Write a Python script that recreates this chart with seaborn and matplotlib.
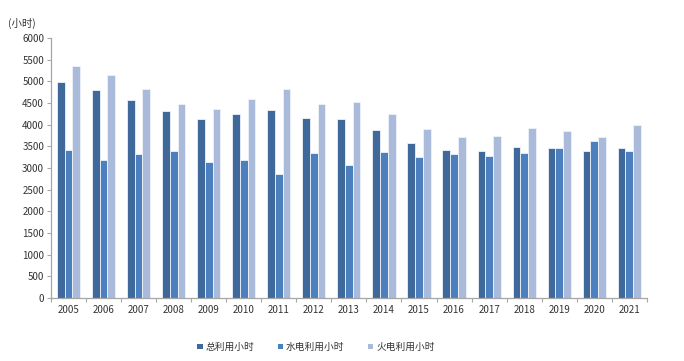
import matplotlib
matplotlib.use("Agg")
import matplotlib.pyplot as plt
import seaborn as sns
import pandas as pd
import numpy as np
from matplotlib.ticker import FixedLocator, MultipleLocator
from matplotlib.patches import Patch

years = [str(y) for y in range(2005, 2022)]
total_hours = [4980, 4790, 4560, 4310, 4120, 4250, 4325, 4155, 4120, 3885, 3570, 3410, 3390, 3490, 3455, 3380, 3455]
hydro_hours = [3410, 3175, 3320, 3400, 3145, 3190, 2860, 3345, 3070, 3375, 3240, 3320, 3280, 3340, 3465, 3615, 3400]
thermal_hours = [5350, 5150, 4810, 4480, 4360, 4580, 4810, 4480, 4520, 4250, 3890, 3720, 3740, 3915, 3840, 3720, 3995]
series_names = ["总利用小时", "水电利用小时", "火电利用小时"]
colors = ["#3F689B", "#4B7FBD", "#A9BADA"]

df = pd.DataFrame({
    "year": years * 3,
    "hours": total_hours + hydro_hours + thermal_hours,
    "series": [series_names[0]] * len(years) + [series_names[1]] * len(years) + [series_names[2]] * len(years),
})

sns.set_theme(style="white")
plt.rcParams["font.family"] = ["Noto Sans CJK SC", "DejaVu Sans"]

fig = plt.figure(figsize=(6.84, 3.61), dpi=100)
ax = fig.add_axes([0.0746, 0.175, 0.871, 0.72])

sns.barplot(data=df, x="year", y="hours", hue="series", palette=colors,
            width=0.66, ax=ax, legend=False, saturation=1,
            edgecolor="#EEF2F8", linewidth=0.6)

ax.set_ylim(0, 6000)
ax.set_xlim(-0.5, len(years) - 0.5)
ax.yaxis.set_major_locator(MultipleLocator(500))
ax.set_xlabel("")
ax.set_ylabel("")

for s in ["top", "right"]:
    ax.spines[s].set_visible(False)
for s in ["left", "bottom"]:
    ax.spines[s].set_color("#A6A6A6")
    ax.spines[s].set_linewidth(0.9)

ax.tick_params(axis="y", which="major", length=3, width=0.8, color="#A6A6A6",
               labelsize=7, labelcolor="#333333", pad=2, left=True)
ax.tick_params(axis="x", which="major", length=0, labelsize=7, labelcolor="#333333", pad=5)
ax.xaxis.set_minor_locator(FixedLocator(np.arange(-0.5, len(years), 1.0)))
ax.tick_params(axis="x", which="minor", length=3, width=0.8, color="#A6A6A6", bottom=True)

fig.text(0.012, 0.925, "(小时)", fontsize=7.5, color="#333333")

handles = [Patch(facecolor=c, edgecolor="none") for c in colors]
fig.legend(handles, series_names, loc="center", bbox_to_anchor=(0.462, 0.039), ncol=3,
           frameon=False, fontsize=7, handlelength=0.55, handleheight=0.55,
           handletextpad=0.3, columnspacing=2.4, labelcolor="#333333")

fig.savefig("out.png", dpi=100)
